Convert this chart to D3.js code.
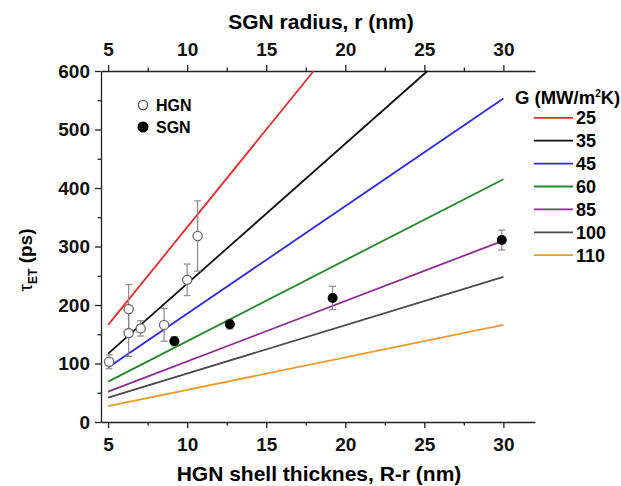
<!DOCTYPE html>
<html>
<head>
<meta charset="utf-8">
<script src="https://cdn.jsdelivr.net/npm/d3@7"></script>
<style>
    body { margin: 0; background: #fff; }
    svg { display: block; font-family: "Liberation Sans", Arial, sans-serif; font-weight: bold; }
    .axis path, .axis line { stroke: #222; stroke-width: 1.3; }
    .axis text { font-size: 19px; font-weight: bold; fill: #111; font-family: "Liberation Sans", Arial, sans-serif; }
</style>
</head>
<body>
<div id="chart-area"></div>
<script>
// conductance curves, tau at x = 5 and the end point of each line
const gLabels = ['25', '35', '45', '60', '85', '100', '110'];
const lineStartTau = [166, 117, 93, 69, 52, 41.5, 27];
const lineEndX = [18.0, 25.2, 30, 30, 30, 30, 30];
const lineEndTau = [600, 600, 553, 415, 310, 248, 166];

// HGN measurements (open circles)
const hgnX = [5.06, 6.3, 6.3, 7.06, 8.54, 10.0, 10.66];
const hgnTau = [103, 152, 193, 160, 166, 243, 318];
const hgnErr = [12, 40, 42, 13, 28, 27, 60];

// SGN measurements (filled circles)
const sgnX = [9.19, 12.7, 19.2, 29.9];
const sgnTau = [138, 167, 212, 311];
const sgnErr = [8, 8, 20, 17];

const xTicks = [5, 10, 15, 20, 25, 30];
const xMinor = [7.5, 12.5, 17.5, 22.5, 27.5];
const yTicks = [0, 100, 200, 300, 400, 500, 600];
const yMinor = [50, 150, 250, 350, 450, 550];

const lineColors = ['#f02828', '#111111', '#2a2ae6', '#1f8a24', '#8e2a96', '#4a4a4a', '#ee9a2a'];

const width = 621, height = 486;
const svg = d3.select('#chart-area')
    .append('svg')
    .attr('width', width)
    .attr('height', height);

const x = d3.scaleLinear().domain([4.55, 32]).range([101, 535]);
const y = d3.scaleLinear().domain([0, 600]).range([422, 71]);

// minor ticks first so the major axis draws on top
function minor(gen, vals) {
    return gen.tickValues(vals).tickSize(3.5).tickFormat('');
}
svg.append('g').attr('class', 'axis').attr('transform', 'translate(0,422)')
    .call(minor(d3.axisBottom(x), xMinor)).select('.domain').remove();
svg.append('g').attr('class', 'axis').attr('transform', 'translate(0,71)')
    .call(minor(d3.axisTop(x), xMinor)).select('.domain').remove();
svg.append('g').attr('class', 'axis').attr('transform', 'translate(101,0)')
    .call(minor(d3.axisLeft(y), yMinor)).select('.domain').remove();

svg.append('g').attr('class', 'axis').attr('transform', 'translate(0,422)')
    .call(d3.axisBottom(x).tickValues(xTicks).tickSize(6).tickSizeOuter(0).tickPadding(10));
svg.append('g').attr('class', 'axis').attr('transform', 'translate(0,71)')
    .call(d3.axisTop(x).tickValues(xTicks).tickSize(6).tickSizeOuter(0).tickPadding(9));
svg.append('g').attr('class', 'axis').attr('transform', 'translate(101,0)')
    .call(d3.axisLeft(y).tickValues(yTicks).tickSize(6).tickSizeOuter(0).tickPadding(5));

// axis titles
svg.append('text')
    .attr('x', 319).attr('y', 481)
    .attr('text-anchor', 'middle')
    .style('font-size', '21px')
    .text('HGN shell thicknes, R-r (nm)');

svg.append('text')
    .attr('x', 321).attr('y', 29)
    .attr('text-anchor', 'middle')
    .style('font-size', '21px')
    .text('SGN radius, r (nm)');

const yTitle = svg.append('text')
    .attr('transform', 'translate(32,260) rotate(-90)')
    .attr('text-anchor', 'middle')
    .style('font-size', '19px');
yTitle.append('tspan').style('font-weight', 'normal').text('τ');
yTitle.append('tspan').attr('dy', 5).style('font-size', '12px').text('ET');
yTitle.append('tspan').attr('dy', -5).text(' (ps)');

// model lines
const lines = gLabels.map((g, i) => ({
    g: g,
    color: lineColors[i],
    pts: [[5, lineStartTau[i]], [lineEndX[i], lineEndTau[i]]]
}));

const lineGen = d3.line().x(d => x(d[0])).y(d => y(d[1]));

svg.append('g').selectAll('path')
    .data(lines)
    .enter()
    .append('path')
    .attr('d', d => lineGen(d.pts))
    .attr('fill', 'none')
    .attr('stroke', d => d.color)
    .attr('stroke-width', 1.8);

// error bars + markers
const hgn = hgnX.map((v, i) => ({ x: v, y: hgnTau[i], e: hgnErr[i] }));
const sgn = sgnX.map((v, i) => ({ x: v, y: sgnTau[i], e: sgnErr[i] }));

function errorBars(data) {
    const g = svg.append('g').attr('stroke', '#8a8a8a').attr('stroke-width', 1.2);
    data.forEach(d => {
        g.append('line').attr('x1', x(d.x)).attr('x2', x(d.x))
            .attr('y1', y(d.y - d.e)).attr('y2', y(d.y + d.e));
        [d.y - d.e, d.y + d.e].forEach(v => {
            g.append('line').attr('x1', x(d.x) - 3.5).attr('x2', x(d.x) + 3.5)
                .attr('y1', y(v)).attr('y2', y(v));
        });
    });
}
errorBars(hgn);
errorBars(sgn);

svg.append('g').selectAll('circle')
    .data(hgn)
    .enter()
    .append('circle')
    .attr('cx', d => x(d.x))
    .attr('cy', d => y(d.y))
    .attr('r', 4.6)
    .attr('fill', '#fff')
    .attr('stroke', '#6a6a6a')
    .attr('stroke-width', 1.3);

svg.append('g').selectAll('circle')
    .data(sgn)
    .enter()
    .append('circle')
    .attr('cx', d => x(d.x))
    .attr('cy', d => y(d.y))
    .attr('r', 5)
    .attr('fill', '#000');

// symbol legend
svg.append('circle').attr('cx', 143).attr('cy', 105).attr('r', 4.6)
    .attr('fill', '#fff').attr('stroke', '#555').attr('stroke-width', 1.3);
svg.append('text').attr('x', 156).attr('y', 111).style('font-size', '16px').text('HGN');
svg.append('circle').attr('cx', 143).attr('cy', 127).attr('r', 5.5).attr('fill', '#000');
svg.append('text').attr('x', 156).attr('y', 133).style('font-size', '16px').text('SGN');

// G legend
const gHead = svg.append('text').attr('x', 515).attr('y', 104).style('font-size', '18.5px');
gHead.append('tspan').text('G (MW/m');
gHead.append('tspan').attr('dy', -7).style('font-size', '10px').text('2');
gHead.append('tspan').attr('dy', 7).text('K)');

const leg = svg.append('g').selectAll('g')
    .data(lines)
    .enter()
    .append('g')
    .attr('transform', (d, i) => `translate(0, ${117.8 + i * 22.9})`);

leg.append('line')
    .attr('x1', 534).attr('x2', 573)
    .attr('stroke', d => d.color)
    .attr('stroke-width', 1.8);

leg.append('text')
    .attr('x', 576).attr('dy', '0.36em')
    .style('font-size', '18px')
    .text(d => d.g);
</script>
</body>
</html>
